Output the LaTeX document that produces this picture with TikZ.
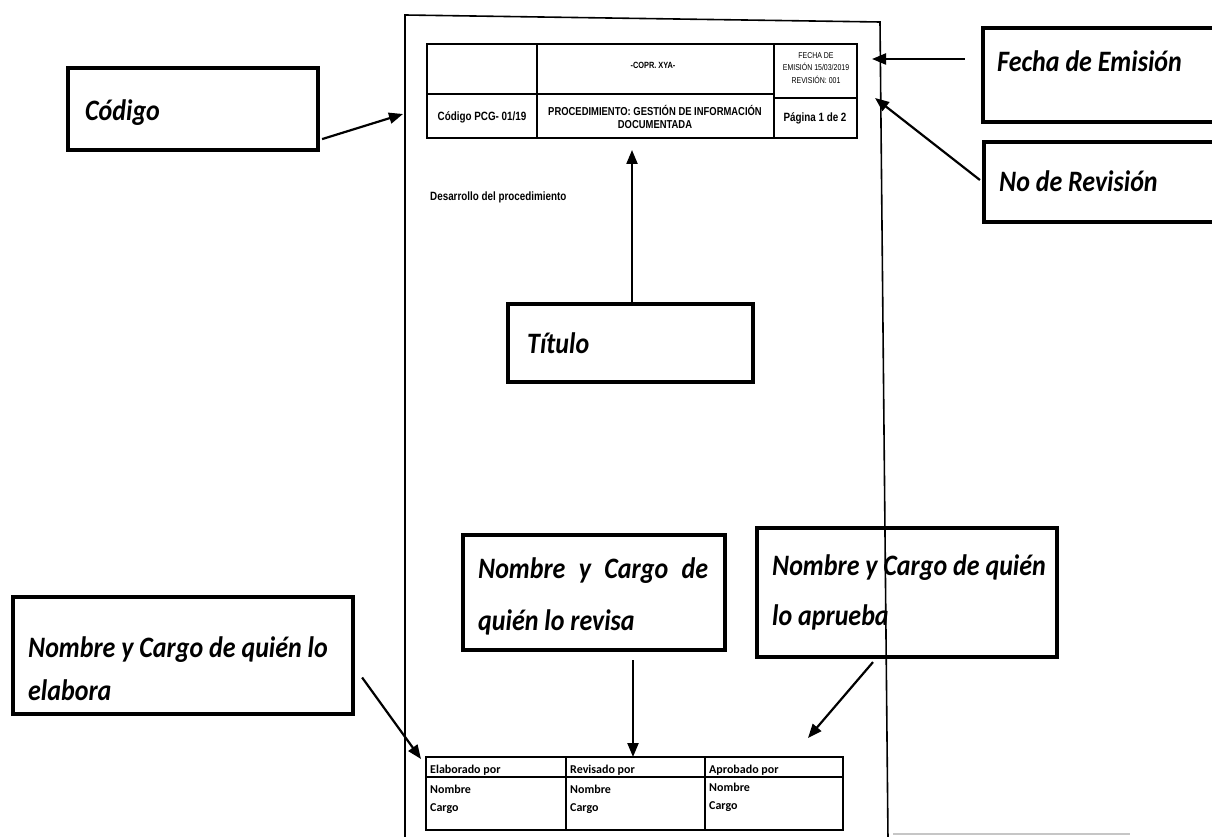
\documentclass[tikz,border=0pt]{standalone}
\usepackage{graphicx}
\usepackage{fontspec}
\setmainfont{Carlito}
\newfontfamily\formfont[FakeStretch=0.82]{Liberation Sans}
\usetikzlibrary{arrows.meta,calc}

% callout lettering, slightly tall
\newcommand{\tallcap}[1]{\scalebox{1}[1.14]{#1}}

\begin{document}
\begin{tikzpicture}[x=1pt,y=-1pt,
  callout/.style={draw, line width=4.2pt, rectangle, inner sep=0pt, fill=white},
  ctext/.style={font=\fontsize{26}{46}\selectfont\bfseries\itshape, anchor=base west, inner sep=0pt},
  pointer/.style={line width=2.2pt, -{Triangle[length=14pt,width=11pt]}},
  hdr/.style={font=\formfont\bfseries\fontsize{12}{14}\selectfont, inner sep=0pt, align=center},
  hdrsmall/.style={font=\formfont\fontsize{9}{13}\selectfont, inner sep=0pt, align=center},
  sig/.style={font=\bfseries\fontsize{12}{19}\selectfont, inner sep=0pt, anchor=base west},
  pageline/.style={line width=1.6pt},
  formline/.style={line width=2.2pt}
]
\useasboundingbox (0,0) rectangle (1212,837);

% ---- form: header table ----
\draw[line width=2.8pt] (427,44) rectangle (857,138);
\draw[formline] (537,44) -- (537,138);
\draw[formline] (774,44) -- (774,138);
\draw[formline] (427,94) -- (774,94);
\draw[formline] (774,98) -- (857,98);

\node[hdrsmall, font=\formfont\bfseries\fontsize{9}{13}\selectfont] (company) at (653,65) {-COPR. XYA-};
\node[hdrsmall, font=\formfont\fontsize{8.5}{12.5}\selectfont] (issue) at (816,68)
  {FECHA DE\\EMISIÓN 15/03/2019\\REVISIÓN: 001};
\node[hdr] (code) at (482,117) {Código PCG- 01/19};
\node[hdr, font=\formfont\bfseries\fontsize{11.5}{13.5}\selectfont] (proc) at (655,117)
  {PROCEDIMIENTO: GESTIÓN DE INFORMACIÓN\\DOCUMENTADA};
\node[hdr] (pageno) at (815,118) {Página 1 de 2};

\node[hdr, anchor=west, font=\formfont\bfseries\fontsize{12}{14}\selectfont] (body) at (430,197)
  {Desarrollo del procedimiento};

% ---- form: signature table ----
\draw[formline] (426,757) rectangle (843,830);
\draw[formline] (426,777) -- (843,777);
\draw[formline] (566,757) -- (566,830);
\draw[formline] (705,757) -- (705,830);

\node[sig] (made) at (430,773) {Elaborado por};
\node[sig] (madeName) at (430,793) {Nombre};
\node[sig] (madeRole) at (430,811) {Cargo};
\node[sig] (checked) at (570,773) {Revisado por};
\node[sig] (checkedName) at (570,793) {Nombre};
\node[sig] (checkedRole) at (570,811) {Cargo};
\node[sig] (approved) at (709,773) {Aprobado por};
\node[sig] (approvedName) at (709,791) {Nombre};
\node[sig] (approvedRole) at (709,809) {Cargo};

% ---- callout boxes ----
\node[callout, minimum width=250pt, minimum height=82pt] (codigo) at (193,109) {};
\node[ctext] at (85,121) {\tallcap{Código}};

\node[callout, minimum width=232pt, minimum height=94pt] (fecha) at (1099,75) {};
\node[ctext] at (997,72) {\tallcap{Fecha de Emisión}};

\node[callout, minimum width=232pt, minimum height=80pt] (revision) at (1100,182) {};
\node[ctext] at (999,192) {\tallcap{No de Revisión}};

\node[callout, minimum width=245pt, minimum height=78pt] (titulo) at (630.5,343) {};
\node[ctext] at (527,353) {\tallcap{Título}};

\node[callout, minimum width=262pt, minimum height=115pt] (revisa) at (594,592.5) {};
\node[ctext] at (478,578) {\tallcap{\makebox[230pt][s]{Nombre y Cargo de}}};
\node[ctext] at (478,630) {\tallcap{quién lo revisa}};

\node[callout, minimum width=300pt, minimum height=129pt] (aprueba) at (907,592.5) {};
\node[ctext] at (772,575) {\tallcap{Nombre y Cargo de quién}};
\node[ctext] at (772,625) {\tallcap{lo aprueba}};

\node[callout, minimum width=340pt, minimum height=117pt] (elabora) at (183,655.5) {};
\node[ctext] at (28,657) {\tallcap{Nombre y Cargo de quién lo}};
\node[ctext] at (28,700) {\tallcap{elabora}};

% ---- arrow targets on the form ----
\coordinate (codeTip) at (403,114);
\coordinate (dateTip) at (872,59);
\coordinate (revTip) at (875,98);
\coordinate (titleTip) at (632,150);
\coordinate (checkTip) at (633,757);
\coordinate (approveTip) at (808,738);
\coordinate (makeTip) at (421,759);

% ---- pointers ----
\draw[pointer] ($(codigo.south east)+(2,-13)$) -- (codeTip);
\draw[pointer] ($(fecha.west)+(-16,-16)$) -- (dateTip);
\draw[pointer] ($(revision.west)+(-2,-2)$) -- (revTip);
\draw[pointer] (titleTip |- titulo.north) -- (titleTip);
\draw[pointer] ($(checkTip |- revisa.south)+(0,8)$) -- (checkTip);
\draw[pointer] ($(aprueba.south)+(-34,3)$) -- (approveTip);
\draw[pointer] ($(elabora.east)+(7,22)$) -- (makeTip);

% ---- sheet outline ----
\draw[pageline] (405,840) -- (405,15) -- (880,22) -- (888,840);
\draw[gray!45, line width=1.2pt] (893,834) -- (1130,834);
\end{tikzpicture}
\end{document}
